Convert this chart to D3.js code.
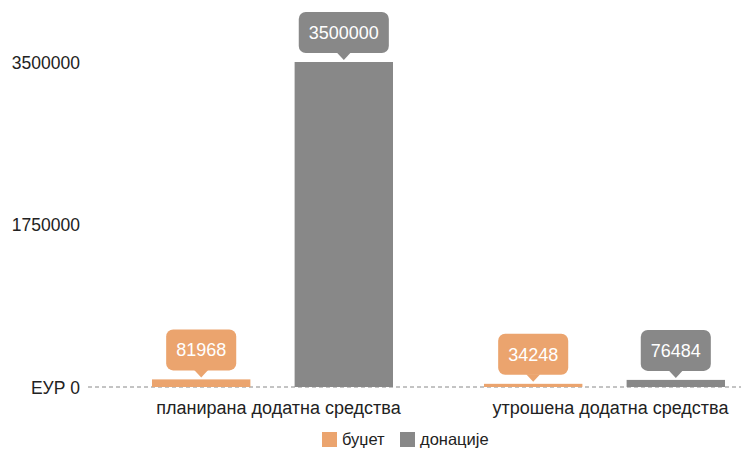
<!DOCTYPE html>
<html><head><meta charset="utf-8">
<script src="https://cdn.jsdelivr.net/npm/d3@7"></script>
<style>body{margin:0;background:#fff}svg{display:block;font-family:"Liberation Sans",Arial,sans-serif}</style>
</head><body><svg id="c" width="741" height="449"></svg>
<script>
const categories = ["планирана додатна средства", "утрошена додатна средства"];
const seriesNames = ["буџет", "донације"];
const budget = [81968, 34248];
const donations = [3500000, 76484];
const tickValues = [0, 1750000, 3500000];
const tickLabels = ["ЕУР 0", "1750000", "3500000"];
const colors = ["#EBA46E", "#888888"];

const svg = d3.select("#c");
const y = d3.scaleLinear().domain([0, 3500000]).range([387, 62]);
const x0 = d3.scaleBand().domain(categories).range([106.5, 770.5]).padding(0);
const x1 = d3.scaleBand().domain(seriesNames).range([45.5, 286.5]).paddingInner(0.31).paddingOuter(0);

svg.append("line").attr("x1", 88).attr("x2", 741).attr("y1", y(0)).attr("y2", y(0))
  .attr("stroke", "#888").attr("stroke-width", 1).attr("stroke-dasharray", "4,3");

svg.selectAll("text.tick").data(tickValues).enter().append("text")
  .attr("class", "tick")
  .attr("x", 80)
  .attr("y", d => y(d) + 6.5)
  .attr("text-anchor", "end")
  .attr("font-size", 17.5).attr("fill", "#222")
  .text((d, i) => tickLabels[i]);

const data = [];
categories.forEach((c, i) => {
  data.push({cat: c, s: seriesNames[0], v: budget[i], col: colors[0]});
  data.push({cat: c, s: seriesNames[1], v: donations[i], col: colors[1]});
});

svg.selectAll("rect.bar").data(data).enter().append("rect")
  .attr("class", "bar")
  .attr("x", d => x0(d.cat) + x1(d.s))
  .attr("width", x1.bandwidth())
  .attr("y", d => y(d.v))
  .attr("height", d => y(0) - y(d.v))
  .attr("fill", d => d.col);

const g = svg.selectAll("g.tip").data(data).enter().append("g").attr("class", "tip");
g.each(function(d) {
  const cx = x0(d.cat) + x1(d.s) + x1.bandwidth() / 2;
  const tipY = y(d.v) - 2;
  const sel = d3.select(this);
  const txt = d3.format("d")(d.v);
  const h = 41;
  const top = tipY - 7 - h;
  const rect = sel.append("rect");
  const path = sel.append("path");
  const t = sel.append("text").attr("x", cx).attr("y", top + h / 2 + 6.5).attr("text-anchor", "middle")
    .attr("font-size", 18).attr("fill", "#fff").text(txt);
  const w = t.node().getComputedTextLength() + 20;
  rect.attr("x", cx - w / 2).attr("y", top).attr("width", w).attr("height", h)
    .attr("rx", 7).attr("fill", d.col);
  path.attr("d", `M${cx - 7},${top + h - 0.5} L${cx},${tipY} L${cx + 7},${top + h - 0.5} Z`).attr("fill", d.col);
});

svg.selectAll("text.cat").data(categories).enter().append("text")
  .attr("class", "cat")
  .attr("x", d => x0(d) + x0.bandwidth() / 2 + 6)
  .attr("y", 414)
  .attr("text-anchor", "middle").attr("font-size", 18).attr("fill", "#222")
  .text(d => d);

const legX = [322, 400];
seriesNames.forEach((s, i) => {
  svg.append("rect").attr("x", legX[i]).attr("y", 432).attr("width", 15).attr("height", 15).attr("fill", colors[i]);
  svg.append("text").attr("x", legX[i] + 20).attr("y", 445).attr("font-size", 16.5).attr("fill", "#222").text(s);
});
</script></body></html>
